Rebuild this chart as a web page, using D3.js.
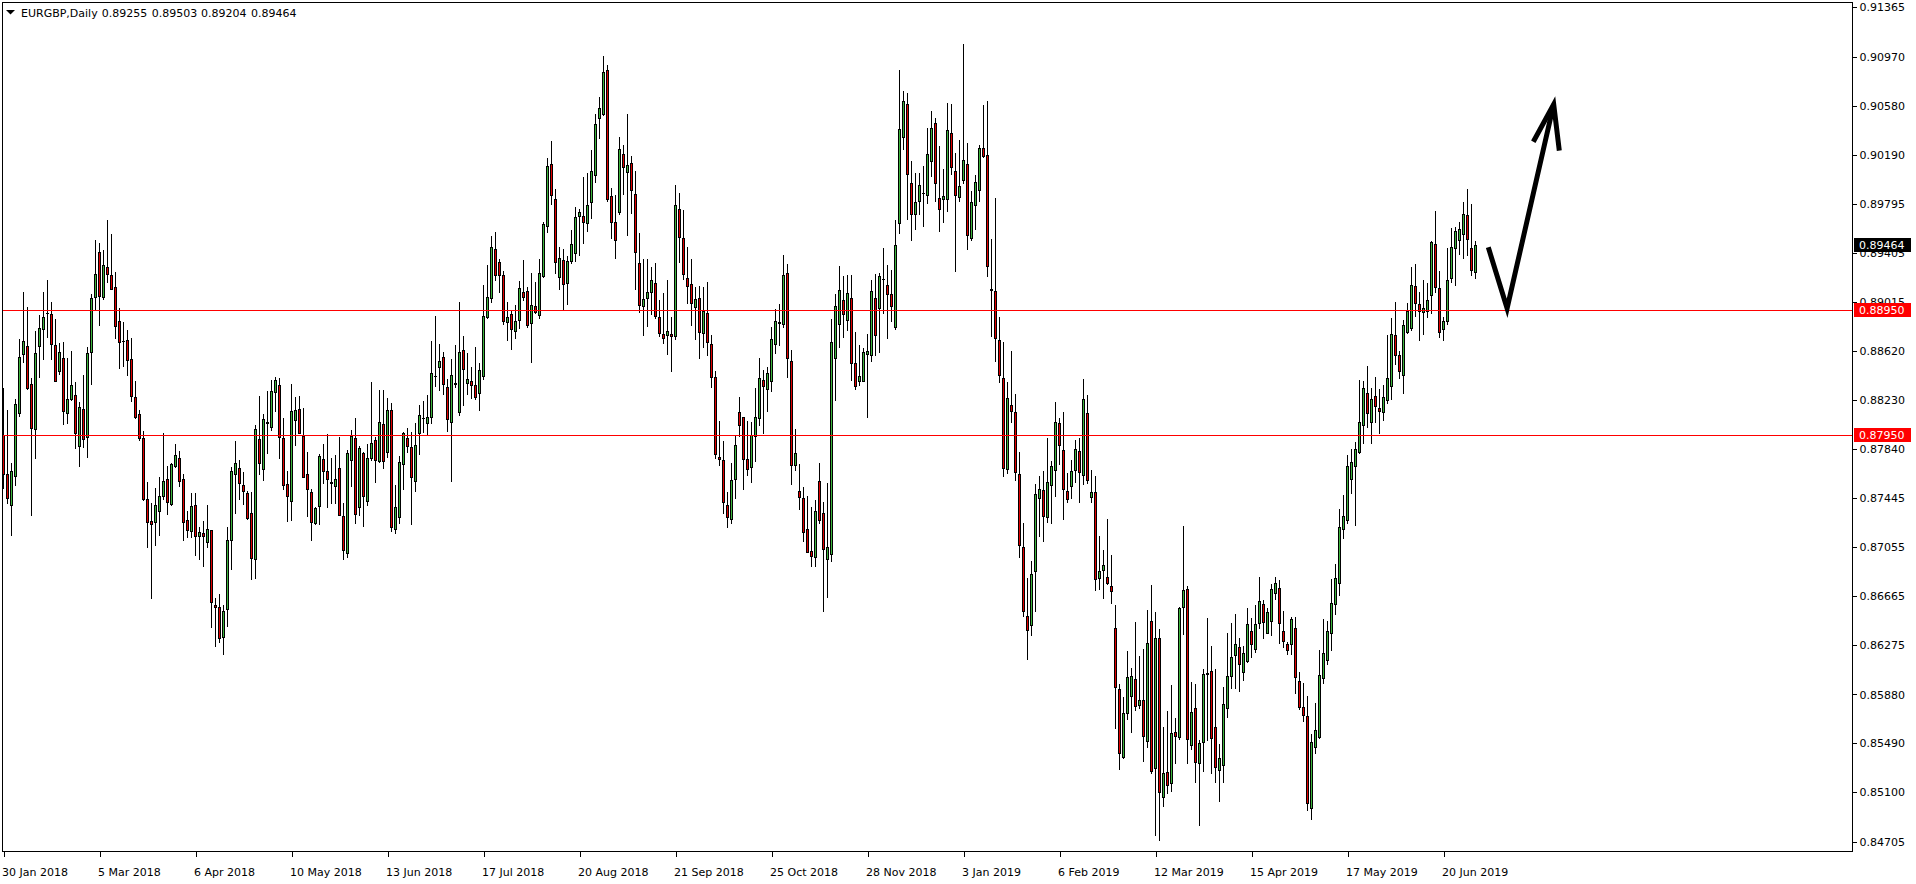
<!DOCTYPE html>
<html><head><meta charset="utf-8">
<script src="https://cdn.jsdelivr.net/npm/d3@7"></script>
<style>html,body{margin:0;padding:0;background:#fff;overflow:hidden}svg{display:block}</style>
</head><body><svg id="c" width="1916" height="884"></svg>
<script>
const symbolTitle = "EURGBP,Daily";
const lastOHLC = [0.89255, 0.89503, 0.89204, 0.89464];

const opens = [
0.87954,0.87640,0.87390,0.87622,0.88125,0.88601,0.88662,0.88359,0.88002,0.88659,
0.88800,0.88925,0.88917,0.88670,0.88465,0.88563,0.88125,0.88242,0.88268,0.87867,
0.88159,0.87933,0.88611,0.89056,0.89409,0.89050,0.89292,0.89226,0.89130,0.88859,
0.88700,0.88707,0.88556,0.88252,0.88117,0.87925,0.87438,0.87263,0.87255,0.87348,
0.87468,0.87598,0.87398,0.87702,0.87766,0.87598,0.87271,0.87188,0.87393,0.87143,
0.87170,0.87095,0.87191,0.86595,0.86577,0.86337,0.86560,0.87114,0.87638,0.87688,
0.87553,0.87489,0.87327,0.86960,0.87917,0.87683,0.88055,0.88018,0.88298,0.88348,
0.87925,0.87558,0.87428,0.88069,0.88157,0.87946,0.87638,0.87494,0.87247,0.87388,
0.87758,0.87664,0.87575,0.87547,0.87686,0.87303,0.87007,0.87755,0.87925,0.87375,
0.87805,0.87428,0.87766,0.87909,0.87747,0.88037,0.87813,0.88149,0.87199,0.87295,
0.87718,0.87925,0.87853,0.87582,0.87965,0.88088,0.88047,0.88098,0.88425,0.88497,
0.88572,0.88332,0.88053,0.88362,0.88138,0.88627,0.88369,0.88380,0.88348,0.88290,
0.88425,0.88891,0.89048,0.89434,0.89332,0.89229,0.88856,0.88915,0.88785,0.88872,
0.89090,0.89098,0.88848,0.88979,0.88912,0.89223,0.89617,0.90112,0.89838,0.89215,
0.89346,0.89168,0.89343,0.89407,0.89702,0.89700,0.89646,0.89814,0.90029,0.90484,
0.90511,0.90862,0.89859,0.89649,0.89734,0.90192,0.90048,0.90120,0.89872,0.89322,
0.88984,0.89048,0.89096,0.89162,0.88891,0.88758,0.88753,0.88758,0.88739,0.89753,
0.89521,0.89202,0.89154,0.88976,0.89043,0.88769,0.88923,0.88678,0.88412,0.87774,
0.87750,0.87391,0.87279,0.87598,0.88138,0.88092,0.87762,0.87692,0.87940,0.88083,
0.88389,0.88322,0.88380,0.88679,0.88850,0.88841,0.89244,0.88538,0.87714,0.87503,
0.87448,0.87197,0.87029,0.86980,0.87588,0.87332,0.86965,0.87005,0.88563,0.88841,
0.89027,0.88871,0.89046,0.88529,0.88380,0.88386,0.88600,0.88593,0.89046,0.88966,
0.89198,0.89149,0.89076,0.88813,0.89641,0.90329,0.90594,0.89962,0.89718,0.89822,
0.89885,0.89870,0.90142,0.90442,0.89843,0.89831,0.89831,0.90362,0.90060,0.89849,
0.89983,0.90112,0.89525,0.89785,0.89904,0.90240,0.90190,0.89115,0.89097,0.88712,
0.88408,0.87677,0.88191,0.88136,0.87639,0.87059,0.86508,0.86437,0.86867,0.87447,
0.87510,0.87293,0.87556,0.87673,0.88049,0.87832,0.87502,0.87543,0.87673,0.87827,
0.87635,0.88128,0.87456,0.87498,0.86813,0.86871,0.86821,0.86746,0.86412,0.85924,
0.85385,0.85731,0.85869,0.86003,0.85798,0.85836,0.85506,0.86466,0.85293,0.86329,
0.85063,0.85264,0.85172,0.85577,0.85539,0.86579,0.86721,0.85477,0.85773,0.85331,
0.85502,0.86045,0.86065,0.85619,0.85276,0.85318,0.85769,0.86025,0.86193,0.86257,
0.86059,0.86146,0.86388,0.86247,0.86452,0.86603,0.86371,0.86465,0.86694,0.86731,
0.86388,0.86280,0.86280,0.86408,0.85985,0.85777,0.85706,0.84970,0.85461,0.85541,
0.86008,0.86153,0.86368,0.86606,0.86768,0.87201,0.87275,0.87597,0.87705,0.87815,
0.88030,0.88286,0.88057,0.88262,0.88168,0.88131,0.88232,0.88343,0.88749,0.88588,
0.88427,0.88776,0.88806,0.89139,0.88995,0.88931,0.88944,0.89065,0.89475,0.89122,
0.88800,0.88864,0.89206,0.89441,0.89508,0.89552,0.89710,0.89445,0.89255];

const highs = [
0.88324,0.88151,0.87726,0.88236,0.88718,0.89093,0.88973,0.88409,0.88782,0.88907,
0.89093,0.89189,0.89013,0.88877,0.88683,0.88694,0.88566,0.88622,0.88372,0.88215,
0.88431,0.88654,0.89074,0.89505,0.89481,0.89428,0.89667,0.89556,0.89252,0.88962,
0.88853,0.88790,0.88726,0.88383,0.88151,0.87984,0.87574,0.87406,0.87529,0.87616,
0.87965,0.87702,0.87731,0.87880,0.87824,0.87640,0.87343,0.87486,0.87486,0.87220,
0.87268,0.87393,0.87194,0.86648,0.86680,0.86592,0.87215,0.87699,0.87904,0.87752,
0.87659,0.87508,0.87497,0.88032,0.88263,0.88117,0.88303,0.88388,0.88415,0.88409,
0.88087,0.87664,0.88361,0.88255,0.88263,0.88165,0.87816,0.87521,0.87377,0.87797,
0.87880,0.87960,0.87766,0.87789,0.87936,0.87406,0.87832,0.87992,0.88087,0.87867,
0.87819,0.87877,0.88375,0.87933,0.88308,0.88311,0.88244,0.88204,0.87553,0.87787,
0.87978,0.88005,0.87973,0.88047,0.88194,0.88223,0.88268,0.88702,0.88901,0.88678,
0.88614,0.88396,0.88561,0.88667,0.89013,0.88742,0.88606,0.88494,0.88654,0.88524,
0.89149,0.89306,0.89540,0.89569,0.89356,0.89261,0.89013,0.88947,0.88987,0.89178,
0.89348,0.89136,0.89245,0.89176,0.89356,0.89652,0.90162,0.90298,0.89912,0.89452,
0.89434,0.89380,0.89585,0.89771,0.89755,0.90011,0.90045,0.90226,0.90514,0.90647,
0.90976,0.90905,0.89923,0.89867,0.90327,0.90263,0.90514,0.90178,0.90059,0.89564,
0.89356,0.89356,0.89290,0.89325,0.89029,0.89085,0.89189,0.88896,0.89947,0.89883,
0.89747,0.89452,0.89356,0.89136,0.89138,0.89136,0.89173,0.88750,0.88463,0.88064,
0.87904,0.87497,0.87729,0.87944,0.88251,0.88095,0.88062,0.88053,0.88328,0.88566,
0.88471,0.88490,0.88816,0.88954,0.88997,0.89388,0.89314,0.88627,0.87998,0.87723,
0.87539,0.87463,0.87374,0.87436,0.87726,0.87417,0.87570,0.88878,0.89073,0.89299,
0.89220,0.89226,0.89226,0.88774,0.88673,0.88648,0.88755,0.89192,0.89238,0.89241,
0.89440,0.89311,0.89269,0.89666,0.90866,0.90695,0.90680,0.90139,0.90041,0.90041,
0.90100,0.90402,0.90536,0.90481,0.90258,0.90078,0.90601,0.90594,0.90206,0.90307,
0.91071,0.90280,0.89901,0.90029,0.90268,0.90588,0.90616,0.89514,0.89844,0.88892,
0.88692,0.88378,0.88621,0.88278,0.87815,0.87251,0.86809,0.86946,0.87560,0.87627,
0.87665,0.87928,0.87744,0.88216,0.88086,0.88136,0.87644,0.87752,0.87911,0.87928,
0.88399,0.88270,0.87673,0.87627,0.87147,0.87034,0.87280,0.86997,0.86592,0.85965,
0.85857,0.86224,0.86091,0.86458,0.86187,0.86241,0.86554,0.86754,0.86537,0.86404,
0.85619,0.85748,0.85953,0.85694,0.86575,0.87226,0.86742,0.85978,0.85961,0.85514,
0.86082,0.86491,0.86270,0.86082,0.85485,0.85936,0.86374,0.86452,0.86519,0.86331,
0.86270,0.86573,0.86489,0.86596,0.86815,0.86637,0.86573,0.86764,0.86818,0.86791,
0.86546,0.86297,0.86495,0.86499,0.86059,0.85975,0.85871,0.85565,0.85813,0.86237,
0.86482,0.86465,0.86801,0.86919,0.87359,0.87476,0.87789,0.87839,0.87896,0.88390,
0.88383,0.88501,0.88329,0.88413,0.88319,0.88353,0.88746,0.88884,0.89011,0.88618,
0.88867,0.89005,0.89290,0.89317,0.89092,0.89186,0.89166,0.89502,0.89740,0.89260,
0.88894,0.89445,0.89603,0.89613,0.89653,0.89807,0.89912,0.89791,0.89503];

const lows = [
0.87526,0.87406,0.87151,0.87553,0.88106,0.88537,0.88321,0.87311,0.87771,0.88417,
0.88561,0.88731,0.88561,0.88380,0.88438,0.88042,0.88045,0.88231,0.87851,0.87707,
0.87859,0.87779,0.88356,0.88949,0.88832,0.89034,0.89175,0.89115,0.88728,0.88484,
0.88505,0.88433,0.88226,0.88085,0.87912,0.87433,0.87061,0.86654,0.87077,0.87156,
0.87444,0.87324,0.87395,0.87699,0.87545,0.87114,0.87140,0.87140,0.86994,0.86965,
0.86909,0.87061,0.86422,0.86268,0.86302,0.86201,0.86430,0.86880,0.87332,0.87438,
0.87398,0.87280,0.86800,0.86813,0.87640,0.87593,0.87811,0.87992,0.88146,0.87771,
0.87523,0.87265,0.87273,0.87872,0.87965,0.87614,0.87308,0.87114,0.87242,0.87244,
0.87571,0.87380,0.87406,0.87406,0.87311,0.86962,0.86978,0.87545,0.87252,0.87316,
0.87226,0.87390,0.87752,0.87579,0.87736,0.87691,0.87779,0.87186,0.87172,0.87247,
0.87523,0.87813,0.87244,0.87508,0.87800,0.87973,0.87962,0.88047,0.88345,0.88314,
0.88282,0.87986,0.87587,0.88337,0.88111,0.88194,0.88279,0.88247,0.88239,0.88154,
0.88399,0.88885,0.89013,0.89189,0.89096,0.88840,0.88713,0.88641,0.88729,0.88803,
0.89029,0.88816,0.88537,0.88928,0.88888,0.89215,0.89572,0.89798,0.89247,0.89120,
0.88955,0.89000,0.89327,0.89343,0.89388,0.89481,0.89580,0.89684,0.89974,0.90322,
0.90508,0.89822,0.89527,0.89367,0.89716,0.89875,0.89551,0.89726,0.89120,0.88936,
0.88753,0.88824,0.88918,0.88888,0.88739,0.88689,0.88601,0.88465,0.88718,0.89335,
0.89194,0.89003,0.88832,0.88715,0.88569,0.88657,0.88588,0.88338,0.87766,0.87715,
0.87330,0.87220,0.87252,0.87446,0.87946,0.87518,0.87631,0.87579,0.87747,0.88028,
0.87970,0.88141,0.88306,0.88609,0.88673,0.88816,0.88416,0.87564,0.87671,0.87359,
0.87109,0.87015,0.86907,0.86907,0.87246,0.86550,0.86656,0.86947,0.88230,0.88655,
0.88737,0.88789,0.88392,0.88318,0.88352,0.88380,0.88098,0.88541,0.88593,0.88612,
0.88923,0.88728,0.88862,0.88801,0.89565,0.90237,0.89678,0.89510,0.89595,0.89718,
0.89620,0.89803,0.90020,0.89818,0.89583,0.89650,0.89736,0.90035,0.89259,0.89818,
0.89962,0.89434,0.89510,0.89595,0.89818,0.90170,0.89222,0.88742,0.88545,0.88378,
0.87627,0.87644,0.88057,0.87594,0.86976,0.86508,0.86166,0.86354,0.86550,0.87143,
0.87105,0.87260,0.87251,0.87468,0.87719,0.87280,0.87414,0.87447,0.87577,0.87418,
0.87564,0.87568,0.87414,0.86717,0.86725,0.86654,0.86760,0.86612,0.85615,0.85289,
0.85372,0.85681,0.85577,0.85756,0.85773,0.85352,0.85464,0.85256,0.84755,0.84721,
0.84988,0.85097,0.85109,0.85331,0.85527,0.86362,0.85331,0.85443,0.85185,0.84838,
0.85268,0.85514,0.85256,0.85180,0.85030,0.85185,0.85702,0.85928,0.85931,0.85904,
0.85992,0.86136,0.86180,0.86220,0.86411,0.86334,0.86368,0.86354,0.86640,0.86291,
0.86260,0.86203,0.86203,0.85894,0.85766,0.85672,0.84960,0.84890,0.85414,0.85535,
0.85968,0.86126,0.86237,0.86526,0.86673,0.87133,0.87248,0.87486,0.87234,0.87805,
0.87889,0.88017,0.87889,0.88057,0.87967,0.88074,0.88208,0.88235,0.88521,0.88410,
0.88286,0.88769,0.88790,0.88900,0.88706,0.88756,0.88894,0.88924,0.89095,0.88733,
0.88709,0.88837,0.89173,0.89146,0.89394,0.89361,0.89391,0.89230,0.89204];

const closes = [
0.87640,0.87446,0.87664,0.88199,0.88574,0.88702,0.88329,0.88010,0.88606,0.88806,
0.88891,0.88928,0.88680,0.88385,0.88611,0.88141,0.88236,0.88348,0.87970,0.88173,
0.87917,0.88603,0.89042,0.89234,0.89064,0.89306,0.89239,0.89119,0.88819,0.88691,
0.88699,0.88548,0.88266,0.88098,0.87925,0.87444,0.87255,0.87239,0.87390,0.87465,
0.87585,0.87420,0.87720,0.87789,0.87582,0.87255,0.87191,0.87385,0.87143,0.87175,
0.87143,0.87204,0.86622,0.86577,0.86329,0.86547,0.87114,0.87664,0.87726,0.87566,
0.87505,0.87287,0.86973,0.88002,0.87731,0.88077,0.88050,0.88300,0.88388,0.87933,
0.87555,0.87468,0.88141,0.88151,0.87970,0.87619,0.87518,0.87260,0.87367,0.87782,
0.87667,0.87603,0.87571,0.87598,0.87316,0.87037,0.87805,0.87946,0.87319,0.87845,
0.87462,0.87766,0.87885,0.87750,0.88053,0.87747,0.88149,0.87220,0.87377,0.87734,
0.87968,0.87867,0.87614,0.87869,0.88109,0.88085,0.88093,0.88444,0.88423,0.88540,
0.88356,0.88082,0.88428,0.88364,0.88611,0.88481,0.88396,0.88353,0.88258,0.88468,
0.88899,0.89050,0.89449,0.89229,0.89229,0.88864,0.88891,0.88800,0.88859,0.89122,
0.89053,0.88830,0.88987,0.88936,0.89242,0.89636,0.90099,0.89870,0.89335,0.89362,
0.89160,0.89340,0.89476,0.89689,0.89729,0.89654,0.89785,0.90056,0.90431,0.90559,
0.90849,0.89835,0.89654,0.89511,0.90232,0.90093,0.90104,0.89910,0.89415,0.88992,
0.89035,0.89090,0.89186,0.88904,0.88769,0.88729,0.88785,0.88739,0.89785,0.89535,
0.89239,0.89144,0.89003,0.89035,0.88777,0.88944,0.88697,0.88417,0.87803,0.87758,
0.87415,0.87300,0.87590,0.87869,0.88028,0.87762,0.87677,0.87955,0.88098,0.88410,
0.88343,0.88444,0.88716,0.88859,0.88847,0.89229,0.88563,0.87714,0.87805,0.87454,
0.87173,0.87020,0.86986,0.87341,0.87274,0.87045,0.87054,0.88691,0.88981,0.89107,
0.88914,0.89088,0.88523,0.88340,0.88425,0.88612,0.88618,0.89097,0.88746,0.89220,
0.89195,0.89079,0.88984,0.89464,0.90393,0.90616,0.90032,0.89718,0.89812,0.89947,
0.89883,0.90194,0.90402,0.89965,0.89757,0.89858,0.90384,0.90087,0.89870,0.89938,
0.90145,0.89550,0.89809,0.89968,0.90240,0.90176,0.89297,0.89110,0.88729,0.88429,
0.87685,0.88245,0.88140,0.87656,0.87072,0.86550,0.86395,0.86842,0.87481,0.87518,
0.87301,0.87577,0.87702,0.88053,0.87873,0.87523,0.87443,0.87665,0.87836,0.87652,
0.88236,0.87594,0.87498,0.86800,0.86863,0.86917,0.86767,0.86708,0.85936,0.85410,
0.85731,0.86020,0.86028,0.85786,0.85840,0.85552,0.86287,0.85272,0.86333,0.85101,
0.85256,0.85155,0.85573,0.85552,0.86571,0.86717,0.85527,0.85744,0.85339,0.85489,
0.86045,0.86048,0.85535,0.85301,0.85372,0.85807,0.86028,0.86183,0.86280,0.86126,
0.86210,0.86442,0.86280,0.86442,0.86630,0.86455,0.86539,0.86724,0.86768,0.86448,
0.86304,0.86233,0.86482,0.86018,0.85783,0.85716,0.85011,0.85498,0.85595,0.86035,
0.86210,0.86384,0.86610,0.86811,0.87214,0.87302,0.87705,0.87735,0.87839,0.88054,
0.88326,0.88124,0.88242,0.88185,0.88145,0.88256,0.88407,0.88756,0.88588,0.88464,
0.88830,0.88941,0.89149,0.89001,0.88941,0.88964,0.89025,0.89492,0.89129,0.88776,
0.88860,0.89186,0.89448,0.89576,0.89592,0.89713,0.89512,0.89270,0.89464];

const dateTickBars = [0,24,48,72,96,120,144,168,192,216,240,264,288,312,336,360];
const dateTickLabels = ["30 Jan 2018","5 Mar 2018","6 Apr 2018","10 May 2018","13 Jun 2018",
  "17 Jul 2018","20 Aug 2018","21 Sep 2018","25 Oct 2018","28 Nov 2018","3 Jan 2019",
  "6 Feb 2019","12 Mar 2019","15 Apr 2019","17 May 2019","20 Jun 2019"];
const priceTicks = [0.91365,0.90970,0.90580,0.90190,0.89795,0.89405,0.89015,0.88620,0.88230,
  0.87840,0.87445,0.87055,0.86665,0.86275,0.85880,0.85490,0.85100,0.84705];
const levelLines = [0.88950, 0.87950];
const arrowBars   = [371.2, 375.9, 387.55];
const arrowPrices = [0.89449, 0.88963, 0.90591];
const headBars    = [382.45, 387.55, 388.95];
const headPrices  = [0.90292, 0.90591, 0.90221];

const FONT = "'DejaVu Sans', Verdana, sans-serif";
const BULL = "#3cb43c", BEAR = "#e00000";

const svg = d3.select("#c");
svg.append("rect").attr("width",1916).attr("height",884).attr("fill","#fff");

const frame = {l:2.5, t:2.5, r:1852.5, b:851.5};
const n = opens.length;
const x = d3.scaleLinear().domain([0, n-1]).range([3.5, 3.5 + 4*(n-1)]);
const y = d3.scaleLinear().domain([priceTicks[0], priceTicks[priceTicks.length-1]]).range([7.3, 841.7]);

svg.append("clipPath").attr("id","plotclip").append("rect")
  .attr("x",frame.l).attr("y",frame.t).attr("width",frame.r-frame.l).attr("height",frame.b-frame.t);

const plot = svg.append("g").attr("clip-path","url(#plotclip)");
const bars = d3.range(n).map(i => ({i, o:opens[i], h:highs[i], l:lows[i], c:closes[i]}));

const cg = plot.append("g").attr("shape-rendering","crispEdges");
// wicks
cg.selectAll("line.wick").data(bars).join("line").attr("class","wick")
  .attr("x1", d=>x(d.i)).attr("x2", d=>x(d.i))
  .attr("y1", d=>Math.round(y(d.h))).attr("y2", d=>Math.round(y(d.l))+1)
  .attr("stroke","#000").attr("stroke-width",1);
// bodies
bars.forEach(d => {
  const top = Math.round(y(Math.max(d.o,d.c)));
  const bot = Math.round(y(Math.min(d.o,d.c)));
  const cx = x(d.i);
  if (bot - top < 1) {
    cg.append("line").attr("x1",cx-1.5).attr("x2",cx+1.5)
      .attr("y1",top+0.5).attr("y2",top+0.5).attr("stroke","#000").attr("stroke-width",1);
  } else {
    cg.append("rect").attr("x",cx-1).attr("y",top+0.5).attr("width",2).attr("height",bot-top)
      .attr("fill", d.c >= d.o ? BULL : BEAR).attr("stroke","#000").attr("stroke-width",1);
  }
});

// horizontal levels
plot.selectAll("line.level").data(levelLines).join("line").attr("class","level")
  .attr("x1",frame.l).attr("x2",frame.r)
  .attr("y1",d=>Math.round(y(d))+0.5).attr("y2",d=>Math.round(y(d))+0.5)
  .attr("stroke","#ff0000").attr("stroke-width",1).attr("shape-rendering","crispEdges");

// hand-drawn arrow annotation
const ln = d3.line().x(d=>x(d[0])).y(d=>y(d[1]));
const arrowPts = arrowBars.map((b,i)=>[b, arrowPrices[i]]);
const headPts = headBars.map((b,i)=>[b, headPrices[i]]);
[arrowPts, headPts].forEach(p => {
  plot.append("path").attr("d", ln(p)).attr("fill","none").attr("stroke","#000")
    .attr("stroke-width",5).attr("stroke-linejoin","miter").attr("stroke-miterlimit",6)
    .attr("stroke-linecap","butt");
});

// frame
svg.append("rect").attr("x",frame.l).attr("y",frame.t).attr("width",frame.r-frame.l)
  .attr("height",frame.b-frame.t).attr("fill","none").attr("stroke","#000")
  .attr("stroke-width",1).attr("shape-rendering","crispEdges");

// right price axis
const yAxis = d3.axisRight(y).tickValues(priceTicks).tickSize(4).tickPadding(3)
  .tickFormat(d3.format(".5f"));
const ya = svg.append("g").attr("transform",`translate(${frame.r},0)`).call(yAxis);
ya.select(".domain").remove();
ya.selectAll("line").attr("stroke","#000").attr("shape-rendering","crispEdges");
ya.selectAll("text").attr("fill","#000").style("font-family",FONT).style("font-size","11px");

// bottom date axis
const xAxis = d3.axisBottom(x).tickValues(dateTickBars).tickSize(5)
  .tickFormat((d,i)=>dateTickLabels[i]);
const xa = svg.append("g").attr("transform",`translate(0,${frame.b})`).call(xAxis);
xa.select(".domain").remove();
xa.selectAll("line").attr("stroke","#000").attr("shape-rendering","crispEdges");
xa.selectAll("text").attr("fill","#000").attr("text-anchor","start").attr("x",-2)
  .attr("y",20.5).attr("dy","0.35em").style("font-family",FONT).style("font-size","11px");

// price tags on right axis
function tag(price, bg) {
  const yy = Math.round(y(price));
  svg.append("rect").attr("x",1854).attr("y",yy-7).attr("width",57).attr("height",14)
    .attr("fill",bg).attr("shape-rendering","crispEdges");
  svg.append("text").attr("x",1859).attr("y",yy).attr("dy","0.35em").attr("fill","#fff")
    .style("font-family",FONT).style("font-size","11px").text(d3.format(".5f")(price));
}
levelLines.forEach(p => tag(p, "#ff0000"));
tag(closes[n-1], "#000");

// title
svg.append("path").attr("d","M6,10 L15,10 L10.5,14.5 Z").attr("fill","#000");
const title = svg.append("text").attr("y",13).attr("dy","0.35em").attr("fill","#000")
  .style("font-family",FONT).style("font-size","11px");
title.append("tspan").attr("x",21).text(symbolTitle);
const tx = [101.7, 151.7, 201, 251];
lastOHLC.forEach((v,i) => title.append("tspan").attr("x",tx[i]).text(d3.format(".5f")(v)));
</script>
</body></html>
